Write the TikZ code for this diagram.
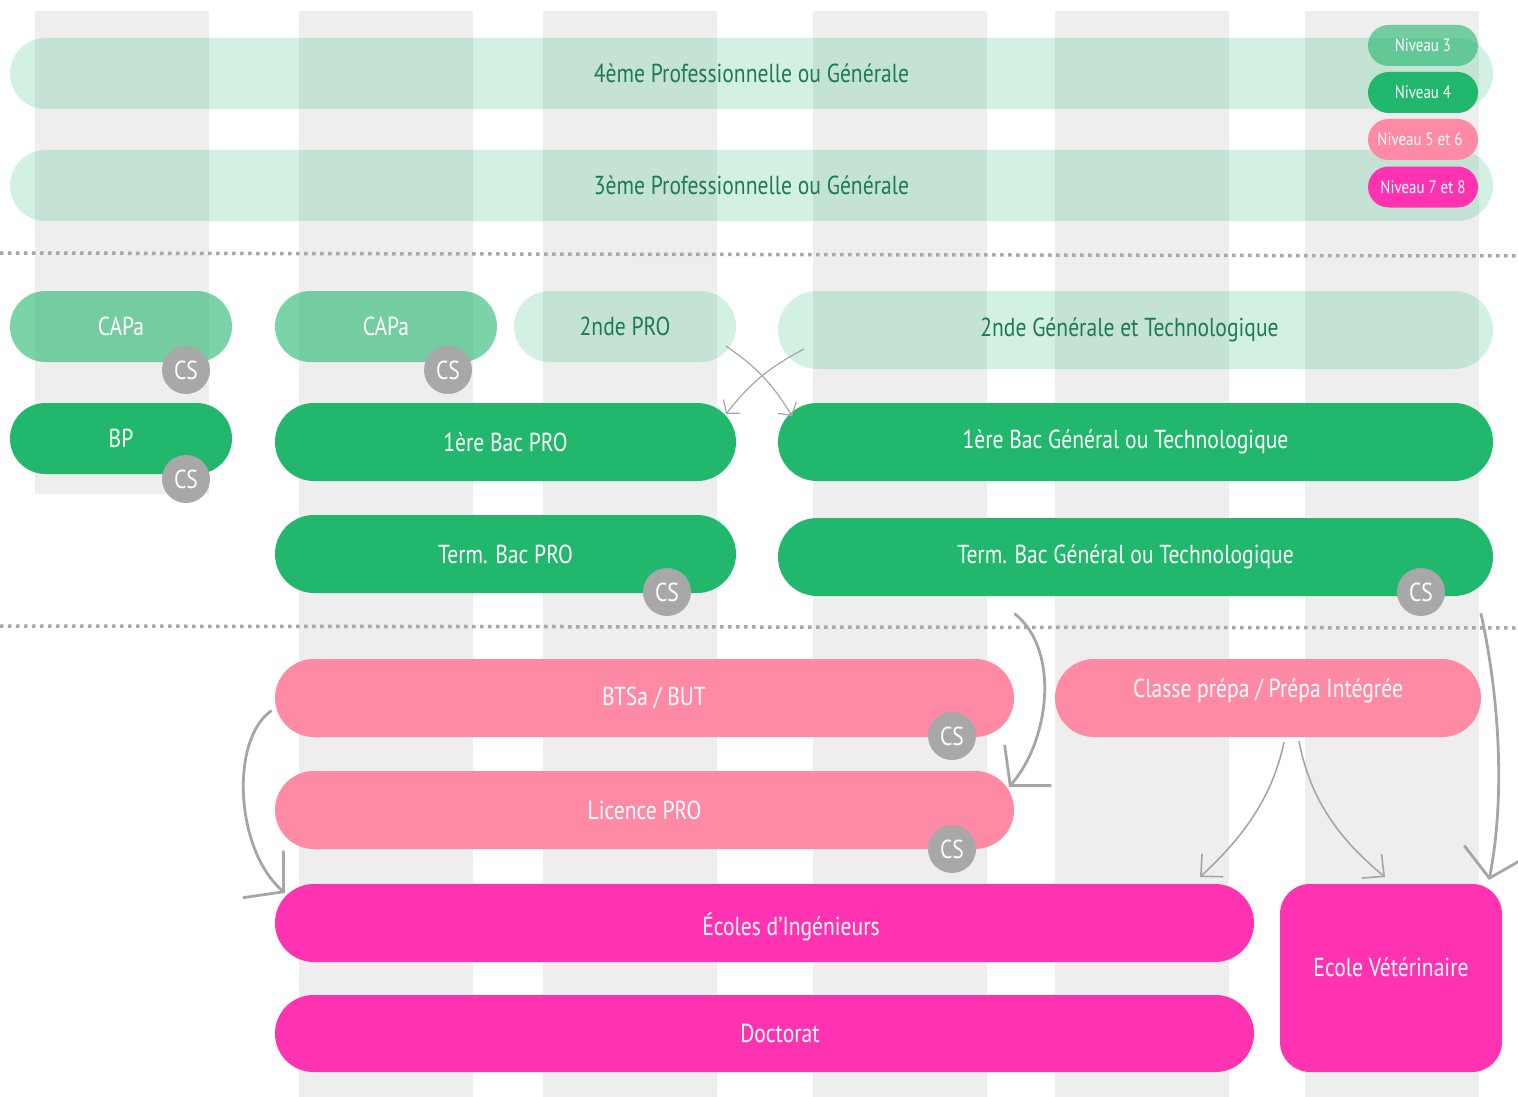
\documentclass[tikz,border=0pt]{standalone}
\usepackage{fontspec}
\setmainfont[FakeStretch=0.83]{PT Sans}
\usetikzlibrary{shapes.misc, arrows.meta}
\definecolor{mygreen}{HTML}{21B76D}
\definecolor{mypink}{HTML}{FF8AA5}
\definecolor{mymagenta}{HTML}{FF33B1}
\definecolor{mygray}{HTML}{EEEEEE}
\definecolor{mygray2}{HTML}{A8A8A8}
\definecolor{myarrow}{HTML}{A6A6A6}
\definecolor{mydarkgreen}{HTML}{1D7A52}
\tikzset{
  pill/.style={rounded rectangle, inner sep=0pt, font=\fontsize{26}{30}\selectfont},
  dims/.style 2 args={minimum width=#1pt, minimum height=#2pt},
  lvlA/.style={pill, fill=mygreen, fill opacity=0.2, text opacity=1, text=mydarkgreen},
  lvlB/.style={pill, fill=mygreen, fill opacity=0.6, text opacity=1, text=white},
  lvlC/.style={pill, fill=mygreen, text=white},
  lvlD/.style={pill, fill=mypink, text=white},
  lvlE/.style={pill, fill=mymagenta, text=white},
  legend/.style={dims={110}{41}, font=\fontsize{18}{21}\selectfont},
  cs/.style={circle, fill=mygray2, text=white, minimum size=48pt, inner sep=0pt, font=\fontsize{26}{30}\selectfont},
  sep/.style={draw=mygray2, line width=3.5pt, dash pattern=on 3.5pt off 4.5pt},
  thin arr/.style={draw=myarrow, line width=1.2pt, -{Straight Barb[length=9pt, width=22pt]}},
  mid arr/.style={draw=myarrow, line width=1.6pt, -{Straight Barb[length=16pt, width=31pt]}},
  big arr/.style={draw=myarrow, line width=2.8pt, line cap=round, -{Straight Barb[length=27pt, width=62pt]}}
}
\begin{document}
\begin{tikzpicture}[x=1pt, y=-1pt]
\useasboundingbox (0,0) rectangle (1518,1097);

\fill[mygray] (35,11) rectangle (209,494);
\foreach \sx in {299,543,813,1055,1305}
  \fill[mygray] (\sx,11) rectangle ++(174,1086);

\draw[sep] (0,253) -- (1518,256);
\draw[sep] (0,626) -- (1518,628);

\node[lvlA, dims={1483}{71}] (quatre) at (751.5,73.5) {4ème Professionnelle ou Générale};
\node[lvlA, dims={1483}{71}] (trois) at (751.5,185.5) {3ème Professionnelle ou Générale};

\node[lvlB, legend] (niv3) at (1423,45.5) {Niveau 3};
\node[lvlC, legend] (niv4) at (1423,92.5) {Niveau 4};
\node[lvlD, legend] (niv56) at (1423,139.5) {\hspace*{-6pt}Niveau 5 et 6};
\node[lvlE, legend] (niv78) at (1423,187) {Niveau 7 et 8};

\node[lvlB, dims={222}{71}] (capaA) at (121,326.5) {CAPa};
\node[lvlB, dims={222}{71}] (capaB) at (386,326.5) {CAPa};
\node[lvlA, dims={222}{71}] (pro2) at (625,326.5) {2nde PRO};
\node[lvlA, dims={715}{78}] (gen2) at (1135.5,330) {\hspace*{-12pt}2nde Générale et Technologique};

\node[lvlC, dims={222}{71}] (bp) at (121,438.5) {BP};
\node[lvlC, dims={461}{78}] (bacpro1) at (505.5,442) {1ère Bac PRO};
\node[lvlC, dims={715}{78}] (bacgen1) at (1135.5,442) {\hspace*{-20pt}1ère Bac Général ou Technologique};

\node[lvlC, dims={461}{78}] (termpro) at (505.5,554) {Term. Bac PRO};
\node[lvlC, dims={715}{78}] (termgen) at (1135.5,557) {\hspace*{-20pt}Term. Bac Général ou Technologique};

\node[lvlD, dims={739}{78}] (btsa) at (644.5,698) {\hspace*{19pt}BTSa / BUT};
\node[lvlD, dims={739}{78}] (licpro) at (644.5,810) {Licence PRO};
\node[lvlD, dims={426}{78}, label={[text=white, font=\fontsize{26}{30}\selectfont, yshift=7pt]center:Classe prépa / Prépa Intégrée}] (prepa) at (1268,698) {};

\node[lvlE, dims={979}{78}, label={[text=white, font=\fontsize{26}{30}\selectfont, xshift=26.5pt, yshift=-4pt]center:Écoles d’Ingénieurs}] (ecoles) at (764.5,923) {};
\node[lvlE, dims={979}{77}] (doct) at (764.5,1033.5) {\hspace*{31pt}Doctorat};
\node[rectangle, rounded corners=30pt, fill=mymagenta, minimum width=222pt, minimum height=188pt,
  label={[text=white, font=\fontsize{26}{30}\selectfont, yshift=11pt]center:Ecole Vétérinaire}] (veto) at (1391,978) {};

\node[cs] (csA) at (186,370) {CS};
\node[cs] (csB) at (448,370) {CS};
\node[cs] (csC) at (186,479) {CS};
\node[cs] (csD) at (667,592) {CS};
\node[cs] (csE) at (1421,592) {CS};
\node[cs] (csF) at (952,736) {CS};
\node[cs] (csG) at (952,849) {CS};

\draw[thin arr] ([shift={(101,19.5)}]pro2.center) to[bend left=12] ([shift={(-343.5,-26)}]bacgen1.center);
\draw[thin arr] ([shift={(-331.5,19)}]gen2.center) to[bend right=12] ([shift={(220.5,-28)}]bacpro1.center);

\draw[big arr] ([shift={(-120.5,57)}]termgen.center) .. controls (1060,650) and (1050,740) .. ([shift={(364.5,-23)}]licpro.center);
\draw[big arr] ([shift={(-373.5,13)}]btsa.center) .. controls (230,740) and (235,850) .. ([shift={(-479.5,-30)}]ecoles.center);
\draw[big arr] ([shift={(345.5,57)}]termgen.center) .. controls (1500,700) and (1505,800) .. ([shift={(98,-98)}]veto.center);

\draw[mid arr] ([shift={(16,44)}]prepa.center) .. controls (1272,800) and (1240,840) .. ([shift={(435.5,-46)}]ecoles.center);
\draw[mid arr] ([shift={(31,43)}]prepa.center) .. controls (1310,800) and (1340,840) .. ([shift={(-6,-101)}]veto.center);
\end{tikzpicture}
\end{document}
